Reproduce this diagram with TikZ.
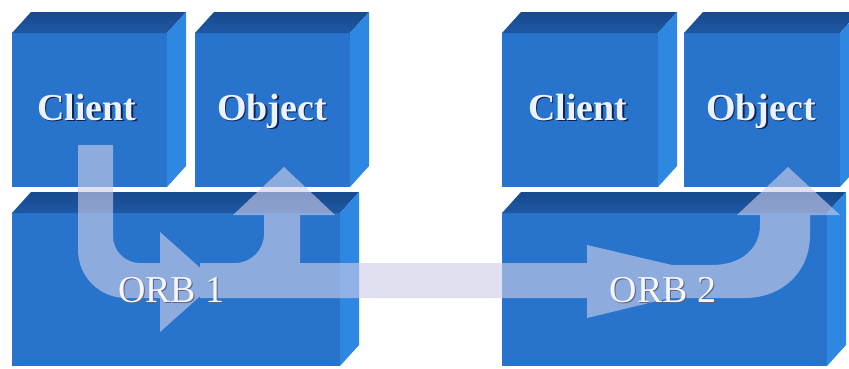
\documentclass[tikz,border=0pt]{standalone}
\usepackage{fontspec}
\setmainfont{Liberation Serif}
\definecolor{frontc}{RGB}{40,116,204}
\definecolor{topc}{RGB}{30,88,164}
\definecolor{topd}{RGB}{24,74,142}
\definecolor{sidec}{RGB}{46,136,226}
\definecolor{arrowc}{RGB}{205,205,234}
\definecolor{textc}{RGB}{236,242,255}
\definecolor{shadc}{RGB}{16,36,80}
\definecolor{orbtext}{RGB}{246,246,255}
\definecolor{orbshad}{RGB}{90,100,130}
\newcommand\mybox[4]{%
  \fill[frontc] (#1,#2) rectangle (#3,#4);
  \shade[top color=topd, bottom color=topc] (#1,#2) -- (#1+19,#2-21) -- (#3+19,#2-21) -- (#3,#2) -- cycle;
  \fill[sidec] (#3,#2) -- (#3+19,#2-21) -- (#3+19,#4-21) -- (#3,#4) -- cycle;
}
\tikzset{
  boxlbl/.style={font=\bfseries\fontsize{38}{38}\selectfont, text=textc, anchor=base, inner sep=0pt},
  boxshad/.style={font=\bfseries\fontsize{38}{38}\selectfont, text=shadc, anchor=base, inner sep=0pt},
  orblbl/.style={font=\fontsize{38}{38}\selectfont, text=orbtext, anchor=base, inner sep=0pt},
  orbshadow/.style={font=\fontsize{38}{38}\selectfont, text=orbshad, anchor=base, inner sep=0pt},
  arrowfill/.style={fill=arrowc}
}
\begin{document}
\begin{tikzpicture}[x=1pt,y=-1pt]
\useasboundingbox (0,0) rectangle (849,368);
\clip (0,0) rectangle (849,368);
\fill[white] (0,0) rectangle (849,368);
% left group
\mybox{12}{33}{167}{187}
\mybox{195}{33}{350}{187}
\mybox{12}{213}{340}{366}
% right group
\mybox{502}{33}{658}{187}
\mybox{684}{33}{840}{187}
\mybox{502}{213}{827}{366}
% labels in boxes
\node[boxshad] (client1s) at (88.5,121.5) {Client};
\node[boxlbl] (client1) at (87,120) {Client};
\node[boxshad] (object1s) at (273.5,121.5) {Object};
\node[boxlbl] (object1) at (272,120) {Object};
\node[boxshad] (client2s) at (579.5,121.5) {Client};
\node[boxlbl] (client2) at (578,120) {Client};
\node[boxshad] (object2s) at (762.5,121.5) {Object};
\node[boxlbl] (object2) at (761,120) {Object};
% translucent arrows
\begin{scope}[transparency group, opacity=0.62]
\fill[arrowfill] (78,145) -- (78,250) .. controls (78,276.5) and (99.5,298) .. (126,298)
  -- (160,298) -- (160,332) -- (216,282) -- (160,232) -- (160,263) -- (140,263)
  .. controls (125,263) and (113,251) .. (113,236) -- (113,145) -- cycle;
\fill[arrowfill] (200,298) -- (200,263) -- (235,263) .. controls (251,263) and (264,250) .. (264,234)
  -- (264,215) -- (233,215) -- (284,167) -- (335,215) -- (300,215) -- (300,263)
  -- (587,263) -- (587,245) -- (740,281) -- (587,318) -- (587,298) -- cycle;
\fill[arrowfill] (650,265) -- (712,265) .. controls (742,265) and (760,248) .. (760,225)
  -- (760,215) -- (737,215) -- (788,167) -- (840,215) -- (810,215) -- (810,235)
  .. controls (810,272) and (782,298) .. (745,298) -- (650,298) -- cycle;
\end{scope}
% ORB labels
\node[orbshadow] (orb1s) at (172.5,303) {ORB 1};
\node[orblbl] (orb1) at (171.5,302) {ORB 1};
\node[orbshadow] (orb2s) at (664,303) {ORB 2};
\node[orblbl] (orb2) at (663,302) {ORB 2};
\end{tikzpicture}
\end{document}
